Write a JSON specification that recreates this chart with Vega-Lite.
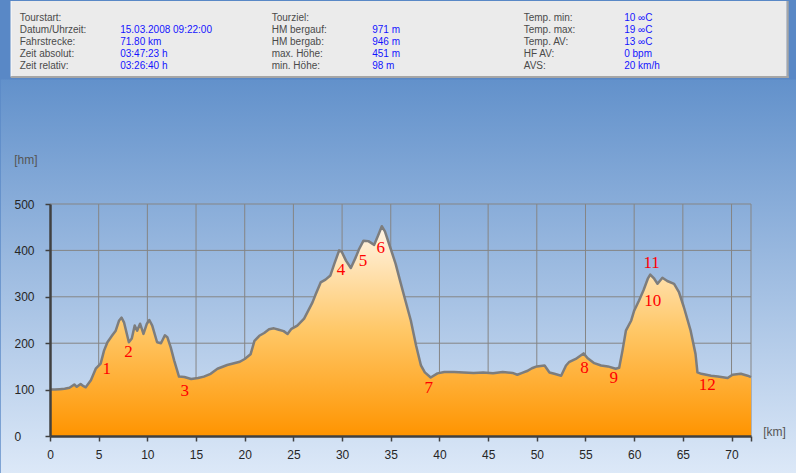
{
  "$schema": "https://vega.github.io/schema/vega-lite/v6.json",
  "padding": 0,
  "background": "#5988c6",
  "spacing": 0,
  "config": {
    "view": {"stroke": null},
    "axis": {
      "grid": false,
      "domainColor": "#404040",
      "domainWidth": 2.5,
      "tickColor": "#404040",
      "tickWidth": 1.5,
      "tickSize": 5,
      "labelFont": "Liberation Sans",
      "labelFontSize": 12,
      "labelColor": "#262626",
      "labelFlush": false,
      "labelOverlap": false,
      "titleFont": "Liberation Sans",
      "titleFontSize": 12,
      "titleFontWeight": "normal",
      "titleColor": "#555555"
    }
  },
  "datasets": {
    "header": [
      {"g": 0, "r": 0, "label": "Tourstart:", "value": ""},
      {"g": 0, "r": 1, "label": "Datum/Uhrzeit:", "value": "15.03.2008 09:22:00"},
      {"g": 0, "r": 2, "label": "Fahrstrecke:", "value": "71.80 km"},
      {"g": 0, "r": 3, "label": "Zeit absolut:", "value": "03:47:23 h"},
      {"g": 0, "r": 4, "label": "Zeit relativ:", "value": "03:26:40 h"},
      {"g": 1, "r": 0, "label": "Tourziel:", "value": ""},
      {"g": 1, "r": 1, "label": "HM bergauf:", "value": "971 m"},
      {"g": 1, "r": 2, "label": "HM bergab:", "value": "946 m"},
      {"g": 1, "r": 3, "label": "max. Höhe:", "value": "451 m"},
      {"g": 1, "r": 4, "label": "min. Höhe:", "value": "98 m"},
      {"g": 2, "r": 0, "label": "Temp. min:", "value": "10 ∞C"},
      {"g": 2, "r": 1, "label": "Temp. max:", "value": "19 ∞C"},
      {"g": 2, "r": 2, "label": "Temp. AV:", "value": "13 ∞C"},
      {"g": 2, "r": 3, "label": "HF AV:", "value": "0 bpm"},
      {"g": 2, "r": 4, "label": "AVS:", "value": "20 km/h"}
    ],
    "vgrid": [
      {"km": 5}, {"km": 10}, {"km": 15}, {"km": 20}, {"km": 25}, {"km": 30}, {"km": 35},
      {"km": 40}, {"km": 45}, {"km": 50}, {"km": 55}, {"km": 60}, {"km": 65}, {"km": 70}, {"km": 72}
    ],
    "hgrid": [{"h": 100}, {"h": 200}, {"h": 300}, {"h": 400}, {"h": 500}],
    "profile": [
      {"km": 0.0, "h": 100}, {"km": 0.5, "h": 100}, {"km": 1.0, "h": 101}, {"km": 1.5, "h": 102},
      {"km": 2.0, "h": 104}, {"km": 2.5, "h": 111}, {"km": 2.75, "h": 106}, {"km": 3.15, "h": 112},
      {"km": 3.4, "h": 108}, {"km": 3.67, "h": 105}, {"km": 4.2, "h": 120}, {"km": 4.7, "h": 145},
      {"km": 5.2, "h": 156}, {"km": 5.55, "h": 184}, {"km": 5.9, "h": 202}, {"km": 6.4, "h": 217},
      {"km": 6.75, "h": 227}, {"km": 7.1, "h": 249}, {"km": 7.35, "h": 255}, {"km": 7.6, "h": 245},
      {"km": 8.1, "h": 202}, {"km": 8.4, "h": 210}, {"km": 8.7, "h": 238}, {"km": 8.95, "h": 227},
      {"km": 9.25, "h": 242}, {"km": 9.6, "h": 220}, {"km": 9.95, "h": 242}, {"km": 10.2, "h": 250},
      {"km": 10.5, "h": 238}, {"km": 11.0, "h": 202}, {"km": 11.4, "h": 200}, {"km": 11.8, "h": 217},
      {"km": 12.05, "h": 213}, {"km": 12.4, "h": 191}, {"km": 12.75, "h": 163}, {"km": 13.25, "h": 128},
      {"km": 13.8, "h": 127}, {"km": 14.5, "h": 123}, {"km": 15.2, "h": 125}, {"km": 15.8, "h": 128},
      {"km": 16.5, "h": 134}, {"km": 17.2, "h": 145}, {"km": 18.2, "h": 153}, {"km": 19.5, "h": 160},
      {"km": 20.0, "h": 166}, {"km": 20.6, "h": 176}, {"km": 21.0, "h": 205}, {"km": 21.5, "h": 216},
      {"km": 22.0, "h": 222}, {"km": 22.5, "h": 230}, {"km": 23.0, "h": 232}, {"km": 23.5, "h": 229},
      {"km": 24.0, "h": 226}, {"km": 24.4, "h": 220}, {"km": 24.8, "h": 231}, {"km": 25.4, "h": 238},
      {"km": 26.1, "h": 253}, {"km": 26.96, "h": 288}, {"km": 27.3, "h": 306}, {"km": 27.8, "h": 331},
      {"km": 28.3, "h": 337}, {"km": 28.8, "h": 346}, {"km": 29.2, "h": 371}, {"km": 29.7, "h": 400},
      {"km": 29.94, "h": 398}, {"km": 30.4, "h": 378}, {"km": 30.9, "h": 362}, {"km": 31.4, "h": 385},
      {"km": 31.75, "h": 403}, {"km": 32.2, "h": 421}, {"km": 32.7, "h": 420}, {"km": 33.3, "h": 412},
      {"km": 33.7, "h": 432}, {"km": 34.08, "h": 452}, {"km": 34.4, "h": 441}, {"km": 35.0, "h": 403},
      {"km": 35.5, "h": 371}, {"km": 36.0, "h": 331}, {"km": 36.5, "h": 292}, {"km": 37.06, "h": 249},
      {"km": 37.6, "h": 195}, {"km": 38.1, "h": 152}, {"km": 38.5, "h": 137}, {"km": 39.1, "h": 126},
      {"km": 39.8, "h": 135}, {"km": 40.5, "h": 138}, {"km": 41.5, "h": 138}, {"km": 42.5, "h": 137},
      {"km": 43.5, "h": 136}, {"km": 44.5, "h": 137}, {"km": 45.5, "h": 135}, {"km": 46.5, "h": 138},
      {"km": 47.5, "h": 136}, {"km": 48.0, "h": 132}, {"km": 48.5, "h": 136}, {"km": 49.0, "h": 140},
      {"km": 49.5, "h": 146}, {"km": 50.0, "h": 150}, {"km": 50.8, "h": 152}, {"km": 51.3, "h": 137},
      {"km": 51.8, "h": 134}, {"km": 52.5, "h": 130}, {"km": 53.0, "h": 152}, {"km": 53.3, "h": 159},
      {"km": 54.0, "h": 166}, {"km": 54.8, "h": 178}, {"km": 55.2, "h": 168}, {"km": 55.9, "h": 157},
      {"km": 56.6, "h": 152}, {"km": 57.3, "h": 150}, {"km": 58.1, "h": 145}, {"km": 58.46, "h": 147},
      {"km": 58.8, "h": 184}, {"km": 59.15, "h": 227}, {"km": 59.7, "h": 249}, {"km": 60.0, "h": 270},
      {"km": 60.5, "h": 292}, {"km": 60.96, "h": 314}, {"km": 61.4, "h": 339}, {"km": 61.65, "h": 348},
      {"km": 62.06, "h": 339}, {"km": 62.4, "h": 328}, {"km": 62.9, "h": 341}, {"km": 63.4, "h": 334},
      {"km": 64.1, "h": 328}, {"km": 64.6, "h": 310}, {"km": 65.1, "h": 278}, {"km": 65.8, "h": 227},
      {"km": 66.3, "h": 177}, {"km": 66.5, "h": 137}, {"km": 66.9, "h": 134}, {"km": 67.9, "h": 130},
      {"km": 68.6, "h": 128}, {"km": 69.6, "h": 125}, {"km": 70.1, "h": 132}, {"km": 70.96, "h": 134},
      {"km": 71.65, "h": 130}, {"km": 72.0, "h": 127}
    ],
    "labels": [
      {"km": 5.83, "h": 145, "n": "1"}, {"km": 8.05, "h": 181, "n": "2"}, {"km": 13.84, "h": 98, "n": "3"},
      {"km": 29.9, "h": 357, "n": "4"}, {"km": 32.16, "h": 378, "n": "5"}, {"km": 33.98, "h": 405, "n": "6"},
      {"km": 38.9, "h": 104, "n": "7"}, {"km": 54.9, "h": 147, "n": "8"}, {"km": 57.9, "h": 125, "n": "9"},
      {"km": 61.9, "h": 292, "n": "10"}, {"km": 61.8, "h": 372, "n": "11"}, {"km": 67.5, "h": 109, "n": "12"}
    ]
  },
  "vconcat": [
    {
      "width": 701,
      "height": 77,
      "layer": [
        {
          "data": {"values": [{}]},
          "mark": {"type": "rect", "color": "#ebebeb", "clip": false},
          "encoding": {
            "x": {"datum": -0.0357, "type": "quantitative", "scale": {"domain": [0.120222, 2.901968], "nice": false, "zero": false}, "axis": null},
            "x2": {"datum": 3.0437},
            "y": {"datum": -1.4167, "type": "quantitative", "scale": {"domain": [-1.4167, 5.0], "nice": false, "zero": false, "reverse": true}, "axis": null},
            "y2": {"datum": 4.9167}
          }
        },
        {
          "data": {"values": [{}]},
          "mark": {"type": "rule", "color": "#a6a6a6", "strokeWidth": 2},
          "encoding": {
            "x": {"datum": -0.0357, "type": "quantitative", "scale": {"domain": [0.120222, 2.901968], "nice": false, "zero": false}, "axis": null},
            "x2": {"datum": 3.0516},
            "y": {"datum": 4.9167, "type": "quantitative", "scale": {"domain": [-1.4167, 5.0], "nice": false, "zero": false, "reverse": true}, "axis": null}
          }
        },
        {
          "data": {"values": [{}]},
          "mark": {"type": "rule", "color": "#a6a6a6", "strokeWidth": 2},
          "encoding": {
            "x": {"datum": 3.0476, "type": "quantitative", "scale": {"domain": [0.120222, 2.901968], "nice": false, "zero": false}, "axis": null},
            "y": {"datum": -1.4167, "type": "quantitative", "scale": {"domain": [-1.4167, 5.0], "nice": false, "zero": false, "reverse": true}, "axis": null},
            "y2": {"datum": 5.0}
          }
        },
        {
          "data": {"values": [{}]},
          "mark": {"type": "rule", "color": "#f7f7f7", "strokeWidth": 1},
          "encoding": {
            "x": {"datum": -0.0337, "type": "quantitative", "scale": {"domain": [0.120222, 2.901968], "nice": false, "zero": false}, "axis": null},
            "y": {"datum": -1.4167, "type": "quantitative", "scale": {"domain": [-1.4167, 5.0], "nice": false, "zero": false, "reverse": true}, "axis": null},
            "y2": {"datum": 4.85}
          }
        },
        {
          "data": {"name": "header"},
          "mark": {"type": "text", "align": "left", "baseline": "middle", "font": "Liberation Sans", "fontSize": 10, "color": "#4a4a4a"},
          "encoding": {
            "x": {"field": "g", "type": "quantitative", "scale": {"domain": [0.120222, 2.901968], "nice": false, "zero": false}, "axis": null},
            "y": {"field": "r", "type": "quantitative", "scale": {"domain": [-1.4167, 5.0], "nice": false, "zero": false, "reverse": true}, "axis": null},
            "text": {"field": "label"}
          }
        },
        {
          "data": {"name": "header"},
          "mark": {"type": "text", "align": "left", "baseline": "middle", "font": "Liberation Sans", "fontSize": 10, "color": "#1414ff", "dx": 100.5},
          "encoding": {
            "x": {"field": "g", "type": "quantitative", "scale": {"domain": [0.120222, 2.901968], "nice": false, "zero": false}, "axis": null},
            "y": {"field": "r", "type": "quantitative", "scale": {"domain": [-1.4167, 5.0], "nice": false, "zero": false, "reverse": true}, "axis": null},
            "text": {"field": "value"}
          }
        }
      ]
    },
    {
      "width": 701,
      "height": 232,
      "layer": [
        {
          "data": {"values": [{}]},
          "mark": {
            "type": "rect",
            "clip": false,
            "color": {"gradient": "linear", "x1": 0, "y1": 0, "x2": 0, "y2": 1,
              "stops": [{"offset": 0, "color": "#6291cb"}, {"offset": 1, "color": "#dde9f8"}]}
          },
          "encoding": {
            "x": {"datum": -5.063, "type": "quantitative", "scale": {"domain": [0, 72], "nice": false, "zero": false}},
            "x2": {"datum": 76.69},
            "y": {"datum": -86, "type": "quantitative", "scale": {"domain": [0, 500], "nice": false, "zero": false}},
            "y2": {"datum": 768.3}
          }
        },
        {
          "data": {"name": "vgrid"},
          "mark": {"type": "rule", "color": "#858585", "strokeWidth": 1},
          "encoding": {
            "x": {"field": "km", "type": "quantitative", "scale": {"domain": [0, 72], "nice": false, "zero": false}}
          }
        },
        {
          "data": {"name": "hgrid"},
          "mark": {"type": "rule", "color": "#858585", "strokeWidth": 1},
          "encoding": {
            "y": {"field": "h", "type": "quantitative", "scale": {"domain": [0, 500], "nice": false, "zero": false}}
          }
        },
        {
          "data": {"name": "profile"},
          "mark": {
            "type": "area",
            "color": {"gradient": "linear", "x1": 0, "y1": 0, "x2": 0, "y2": 1,
              "stops": [{"offset": 0, "color": "#fff5e8"}, {"offset": 0.5, "color": "#ffc766"}, {"offset": 1, "color": "#ff9400"}]},
            "opacity": 1
          },
          "encoding": {
            "x": {
              "field": "km", "type": "quantitative",
              "scale": {"domain": [0, 72], "nice": false, "zero": false},
              "axis": {
                "zindex": 1,
                "values": [0, 5, 10, 15, 20, 25, 30, 35, 40, 45, 50, 55, 60, 65, 70, 72],
                "labelExpr": "datum.value == 72 ? '' : datum.label",
                "labelPadding": 8,
                "title": "[km]",
                "titleX": 712.7,
                "titleY": -4.5,
                "titleAlign": "left",
                "titleBaseline": "middle",
                "titleAngle": 0
              }
            },
            "y": {
              "field": "h", "type": "quantitative",
              "scale": {"domain": [0, 500], "nice": false, "zero": false},
              "axis": {
                "zindex": 1,
                "values": [0, 100, 200, 300, 400, 500],
                "labelAlign": "left",
                "labelBaseline": "middle",
                "labelPadding": 31,
                "title": "[hm]",
                "titleX": -36.3,
                "titleY": -44.5,
                "titleAlign": "left",
                "titleBaseline": "middle",
                "titleAngle": 0
              }
            }
          }
        },
        {
          "data": {"name": "profile"},
          "mark": {"type": "line", "color": "#7d7d7d", "strokeWidth": 2.5, "strokeJoin": "round"},
          "encoding": {
            "x": {"field": "km", "type": "quantitative", "scale": {"domain": [0, 72], "nice": false, "zero": false}},
            "y": {"field": "h", "type": "quantitative", "scale": {"domain": [0, 500], "nice": false, "zero": false}}
          }
        },
        {
          "data": {"name": "labels"},
          "mark": {"type": "text", "font": "Liberation Serif", "fontSize": 17, "color": "#ff0000", "align": "center", "baseline": "middle"},
          "encoding": {
            "x": {"field": "km", "type": "quantitative", "scale": {"domain": [0, 72], "nice": false, "zero": false}},
            "y": {"field": "h", "type": "quantitative", "scale": {"domain": [0, 500], "nice": false, "zero": false}},
            "text": {"field": "n"}
          }
        }
      ]
    }
  ]
}
